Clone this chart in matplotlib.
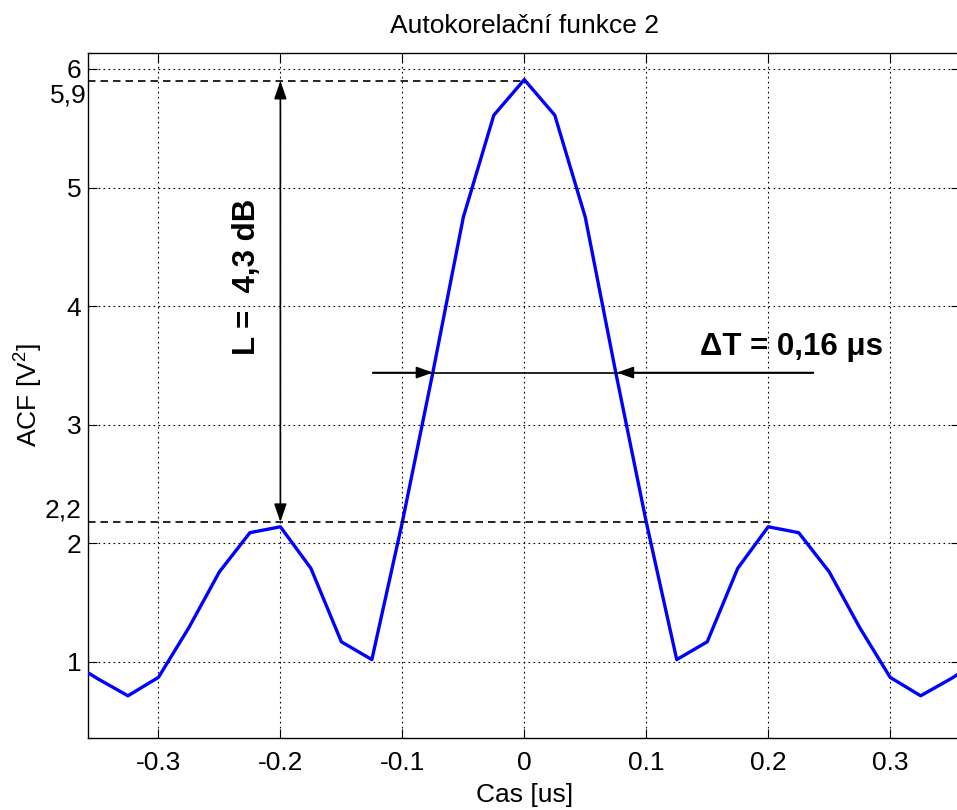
import numpy as np
import matplotlib
matplotlib.use("Agg")
import matplotlib.pyplot as plt
from matplotlib.transforms import blended_transform_factory

plt.rcParams['font.family'] = ['Liberation Sans', 'DejaVu Sans']
plt.rcParams['mathtext.fontset'] = 'custom'
plt.rcParams['mathtext.rm'] = 'Liberation Sans'
plt.rcParams['axes.unicode_minus'] = False

# delay axis [us] and autocorrelation values [V^2]
tau = [-0.375, -0.35, -0.325, -0.3, -0.275, -0.25, -0.225, -0.2, -0.175, -0.15,
       -0.125, -0.1, -0.075, -0.05, -0.025, 0.0, 0.025, 0.05, 0.075, 0.1,
       0.125, 0.15, 0.175, 0.2, 0.225, 0.25, 0.275, 0.3, 0.325, 0.35, 0.375]
acf = [1.02, 0.86, 0.715, 0.87, 1.29, 1.76, 2.09, 2.14, 1.79, 1.17,
       1.02, 2.18, 3.44, 4.75, 5.61, 5.91, 5.61, 4.75, 3.44, 2.18,
       1.02, 1.17, 1.79, 2.14, 2.09, 1.76, 1.29, 0.87, 0.715, 0.86, 1.02]

xticks = [-0.3, -0.2, -0.1, 0, 0.1, 0.2, 0.3]
xticklabels = ['-0.3', '-0.2', '-0.1', '0', '0.1', '0.2', '0.3']
yticks = [1, 2, 3, 4, 5, 6]

peak_level = 5.9      # main lobe
side_level = 2.18     # first side lobe
half_level = 3.44     # width marker
t_left, t_right = -0.075, 0.076

fig = plt.figure(figsize=(9.57, 8.10), dpi=100)
ax = fig.add_axes([88.3 / 957, 72 / 810, 872 / 957, 685.3 / 810])

ax.plot(tau, acf, color='#0000ff', lw=2.4, zorder=3)

ax.set_xlim(-0.3575, 0.3575)
ax.set_ylim(0.359, 6.137)
ax.set_xticks(xticks)
ax.set_xticklabels(xticklabels)
ax.set_yticks(yticks)
ax.tick_params(direction='in', length=6.5, width=0.8, labelsize=19,
               top=True, right=True)
ax.tick_params(axis='x', pad=9)
ax.tick_params(axis='y', pad=5)
ax.grid(True, color='black', lw=0.8, linestyle=(0, (1.5, 3)))
for s in ax.spines.values():
    s.set_linewidth(1.0)

ax.set_title('Autokorelační funkce 2', fontsize=19, pad=14)
ax.set_xlabel('Cas [us]', fontsize=19, labelpad=6)
ax.set_ylabel('ACF [V$^2$]', fontsize=19, labelpad=16)

# reference levels of main and side lobe
dash = dict(color='black', lw=1.2, linestyle=(0, (4.5, 3)), zorder=4)
ax.plot([-0.3575, 0.0], [peak_level, peak_level], **dash)
ax.plot([-0.3575, 0.205], [side_level, side_level], **dash)

tr = blended_transform_factory(ax.transAxes, ax.transData)
ax.text(-0.002, 5.78, '5,9', transform=tr, ha='right', va='center', fontsize=19)
ax.text(-0.008, 2.28, '2,2', transform=tr, ha='right', va='center', fontsize=19)

# side lobe level arrow
ax.annotate('', xy=(-0.2, side_level), xytext=(-0.2, peak_level),
            arrowprops=dict(arrowstyle='<|-|>,head_length=1.1,head_width=0.38',
                            mutation_scale=10, color='black', lw=1.2,
                            shrinkA=0, shrinkB=0), zorder=5)
ax.text(-0.227, 4.25, 'L =  4,3 dB', rotation=90, ha='center', va='center',
        fontsize=22.5, fontweight='bold')

# main lobe width arrows
ax.plot([-0.124, 0.237], [half_level, half_level], color='black', lw=1.2, zorder=4)
arr = dict(arrowstyle='-|>,head_length=1.0,head_width=0.36', mutation_scale=10,
           color='black', lw=1.2, shrinkA=0, shrinkB=0)
ax.annotate('', xy=(t_left, half_level), xytext=(-0.124, half_level),
            arrowprops=arr, zorder=5)
ax.annotate('', xy=(t_right, half_level), xytext=(0.237, half_level),
            arrowprops=arr, zorder=5)
ax.text(0.219, 3.656, 'ΔT = 0,16 μs', ha='center', va='center',
        fontsize=22.5, fontweight='bold')

fig.savefig('out.png', dpi=100)
